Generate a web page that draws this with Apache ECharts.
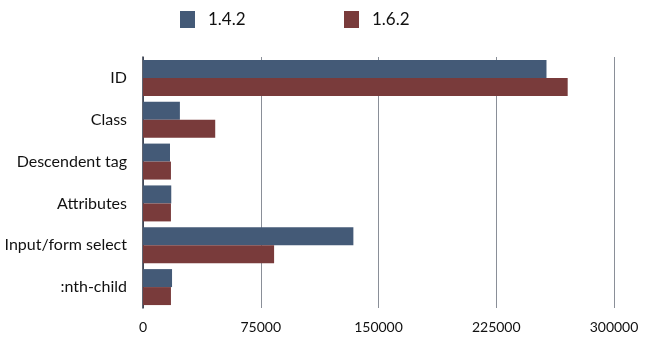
<!DOCTYPE html>
<html><head><meta charset="utf-8">
<script src="https://cdn.jsdelivr.net/npm/echarts@6/dist/echarts.min.js"></script>
<style>html,body{margin:0;padding:0;background:#fff}#c{width:648px;height:361px}</style>
</head><body><div id="c"></div>
<script>
var categories = ['ID', 'Class', 'Descendent tag', 'Attributes', 'Input/form select', ':nth-child'];
var v142 = [257000, 23500, 17200, 18000, 134000, 18500];
var v162 = [270500, 46000, 17800, 17800, 83500, 17800];
var seriesNames = ['1.4.2', '1.6.2'];
var ticks = [0, 75000, 150000, 225000, 300000];

var chart = echarts.init(document.getElementById('c'), null, {renderer: 'canvas'});
var font = 'Lato, "Open Sans", sans-serif';
function leg(name, left) {
  return {
    top: 11, left: left, itemWidth: 15, itemHeight: 17, icon: 'rect', padding: 0,
    textStyle: {fontSize: 17, color: '#111', fontFamily: font, padding: [0, 0, 0, 8]},
    data: [name]
  };
}
chart.setOption({
  animation: false,
  textStyle: {fontFamily: font},
  legend: [leg(seriesNames[0], 180), leg(seriesNames[1], 344)],
  grid: {left: 143, right: 34, top: 57, bottom: 53, containLabel: false},
  xAxis: {
    type: 'value', min: ticks[0], max: ticks[ticks.length - 1], interval: 75000,
    axisLine: {show: false},
    axisTick: {show: false},
    splitLine: {show: true, lineStyle: {color: '#8a8f98', width: 1}},
    axisLabel: {fontSize: 14, color: '#111', margin: 12, fontFamily: font,
      formatter: function (v) { return String(v); }}
  },
  yAxis: {
    type: 'category', data: categories, inverse: true,
    axisLine: {show: true, lineStyle: {color: '#2a3140', width: 1.5}},
    axisTick: {show: false},
    axisLabel: {fontSize: 16, color: '#111', margin: 16, fontFamily: font}
  },
  series: [
    {name: seriesNames[0], type: 'bar', data: v142, barGap: '0%', barCategoryGap: '14%',
     itemStyle: {color: '#445a77'}},
    {name: seriesNames[1], type: 'bar', data: v162, barGap: '0%', barCategoryGap: '14%',
     itemStyle: {color: '#793b3b'}}
  ]
});
</script></body></html>
